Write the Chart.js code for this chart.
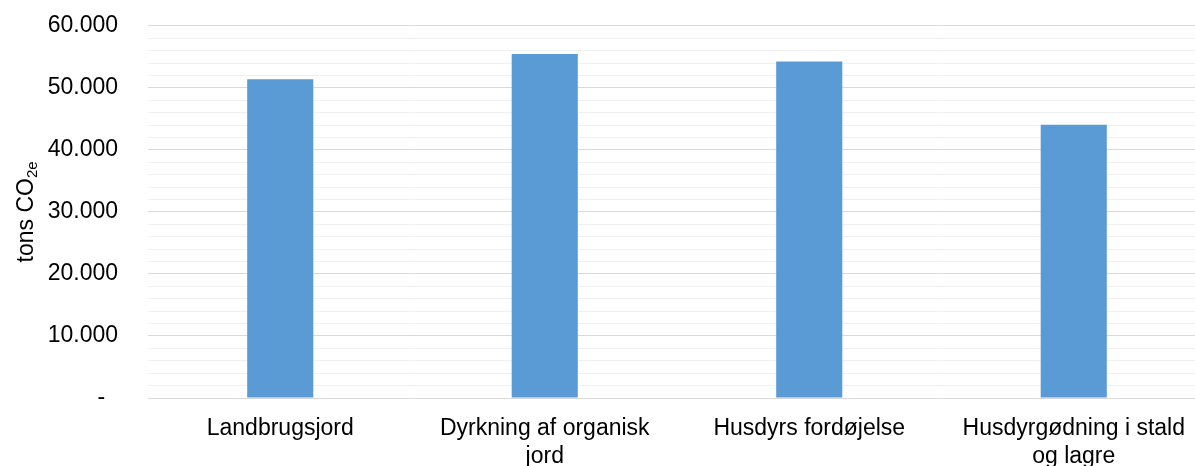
<!DOCTYPE html>
<html lang="da">
<head>
<meta charset="utf-8">
<title>Udledning fra landbruget</title>
<script src="https://cdn.jsdelivr.net/npm/chart.js@4/dist/chart.umd.min.js"></script>
<style>
  html, body { margin: 0; padding: 0; background: #fff; overflow: hidden; }
  #wrap { position: relative; top: -18px; width: 1206px; height: 484px; }
</style>
</head>
<body>
<div id="wrap"><canvas id="chart"></canvas></div>
<script>
// Kategorier og værdier (tons CO2e)
const categories = [
  ['Landbrugsjord'],
  ['Dyrkning af organisk', 'jord'],
  ['Husdyrs fordøjelse'],
  ['Husdyrgødning i stald', 'og lagre']
];
const emissions = [51400, 55450, 54250, 44050];

// Y-aksens hovedinddeling og etiketter
const yTickValues = [0, 10000, 20000, 30000, 40000, 50000, 60000];
const yTickLabels = ['-', '10.000', '20.000', '30.000', '40.000', '50.000', '60.000'];

const FONT = "'Liberation Sans', Arial, sans-serif";

// Lodret aksetitel med sænket "2e"
const yTitlePlugin = {
  id: 'yTitle',
  afterDraw(chart) {
    const { ctx, chartArea } = chart;
    const main = 'tons CO';
    const sub = '2e';
    ctx.save();
    ctx.font = '23px ' + FONT;
    const wMain = ctx.measureText(main).width;
    ctx.font = '15px ' + FONT;
    const wSub = ctx.measureText(sub).width;
    const total = wMain + wSub;
    const cy = (chartArea.top + chartArea.bottom) / 2;
    ctx.translate(33, cy);
    ctx.rotate(-Math.PI / 2);
    ctx.fillStyle = '#000';
    ctx.textBaseline = 'alphabetic';
    ctx.textAlign = 'left';
    ctx.font = '23px ' + FONT;
    ctx.fillText(main, -total / 2, 0);
    ctx.font = '15px ' + FONT;
    ctx.fillText(sub, -total / 2 + wMain, 4);
    ctx.restore();
  }
};

new Chart(document.getElementById('chart'), {
  type: 'bar',
  data: {
    labels: categories,
    datasets: [{
      data: emissions,
      backgroundColor: '#5B9BD5',
      borderWidth: 0,
      barPercentage: 1,
      categoryPercentage: 0.25
    }]
  },
  options: {
    responsive: true,
    maintainAspectRatio: false,
    animation: false,
    devicePixelRatio: 1,
    layout: { padding: { top: 7, left: 48, right: 0, bottom: 0 } },
    plugins: {
      legend: { display: false },
      tooltip: { enabled: false }
    },
    scales: {
      x: {
        grid: { display: false, drawTicks: false },
        border: { display: false },
        ticks: {
          color: '#000',
          font: { family: FONT, size: 23, lineHeight: 1.2 },
          padding: 17,
          maxRotation: 0,
          autoSkip: false
        },
        afterFit(scale) { scale.height = 68; }
      },
      y: {
        min: 0,
        max: 60000,
        grid: {
          drawTicks: false,
          color: (c) => (c.tick && c.tick.value % 10000 === 0) ? '#D9D9D9' : '#F0F0F0',
          lineWidth: 1
        },
        border: { display: false },
        ticks: {
          stepSize: 2000,
          autoSkip: false,
          color: '#000',
          padding: 30,
          font: { family: FONT, size: 23 },
          callback(value) {
            const i = yTickValues.indexOf(value);
            if (i < 0) return '';
            return value === 0 ? yTickLabels[i] + '  ' : yTickLabels[i];
          }
        },
        afterFit(scale) { scale.width = 100; }
      }
    }
  },
  plugins: [yTitlePlugin]
});
</script>
</body>
</html>
